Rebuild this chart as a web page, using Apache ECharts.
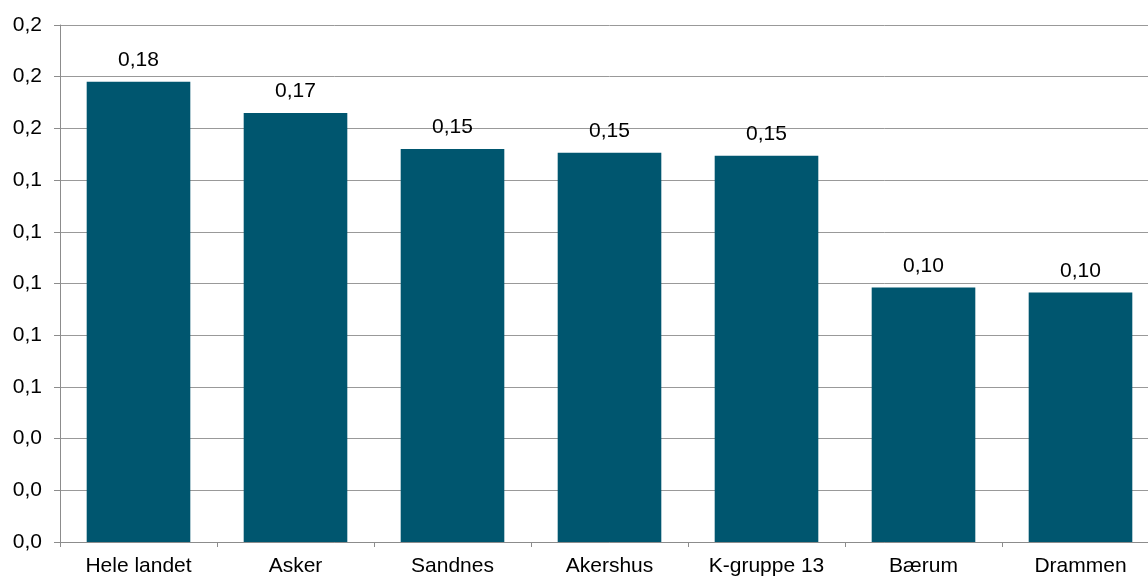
<!DOCTYPE html>
<html>
<head>
<meta charset="utf-8">
<script src="https://cdn.jsdelivr.net/npm/echarts@6/dist/echarts.min.js"></script>
<style>html,body{margin:0;padding:0;background:#fff;overflow:hidden;width:1148px;height:577px}#c{width:1159px;height:577px}</style>
</head>
<body>
<div id="c"></div>
<script>
const categories = ['Hele landet', 'Asker', 'Sandnes', 'Akershus', 'K-gruppe 13', 'Bærum', 'Drammen'];
const values = [0.178, 0.166, 0.152, 0.1506, 0.1494, 0.0985, 0.0965];

const chart = echarts.init(document.getElementById('c'), null, {renderer: 'canvas'});
const font = 'Liberation Sans, Arial, sans-serif';
chart.setOption({
  animation: false,
  grid: {left: 60, top: 25, bottom: 34, right: 0, containLabel: false},
  xAxis: {
    type: 'category',
    data: categories,
    axisLine: {lineStyle: {color: '#8c8c8c', width: 1}},
    axisTick: {show: true, length: 5, lineStyle: {color: '#8c8c8c'}},
    axisLabel: {color: '#000', fontFamily: font, fontSize: 21, margin: 14, interval: 0}
  },
  yAxis: {
    type: 'value',
    min: 0, max: 0.2, interval: 0.02,
    axisLine: {show: true, lineStyle: {color: '#8c8c8c', width: 1}},
    axisTick: {show: true, length: 6, lineStyle: {color: '#8c8c8c'}},
    splitLine: {lineStyle: {color: '#999999', width: 1}},
    axisLabel: {
      color: '#000', fontFamily: font, fontSize: 21, margin: 18,
      formatter: v => (Math.round(v * 10) / 10).toFixed(1).replace('.', ',')
    }
  },
  series: [{
    type: 'bar',
    data: values,
    barCategoryGap: '34%',
    itemStyle: {color: '#00566f'},
    label: {
      show: true, position: 'top', distance: 11,
      color: '#000', fontFamily: font, fontSize: 21,
      formatter: p => p.value.toFixed(2).replace('.', ',')
    }
  }]
});
</script>
</body>
</html>
